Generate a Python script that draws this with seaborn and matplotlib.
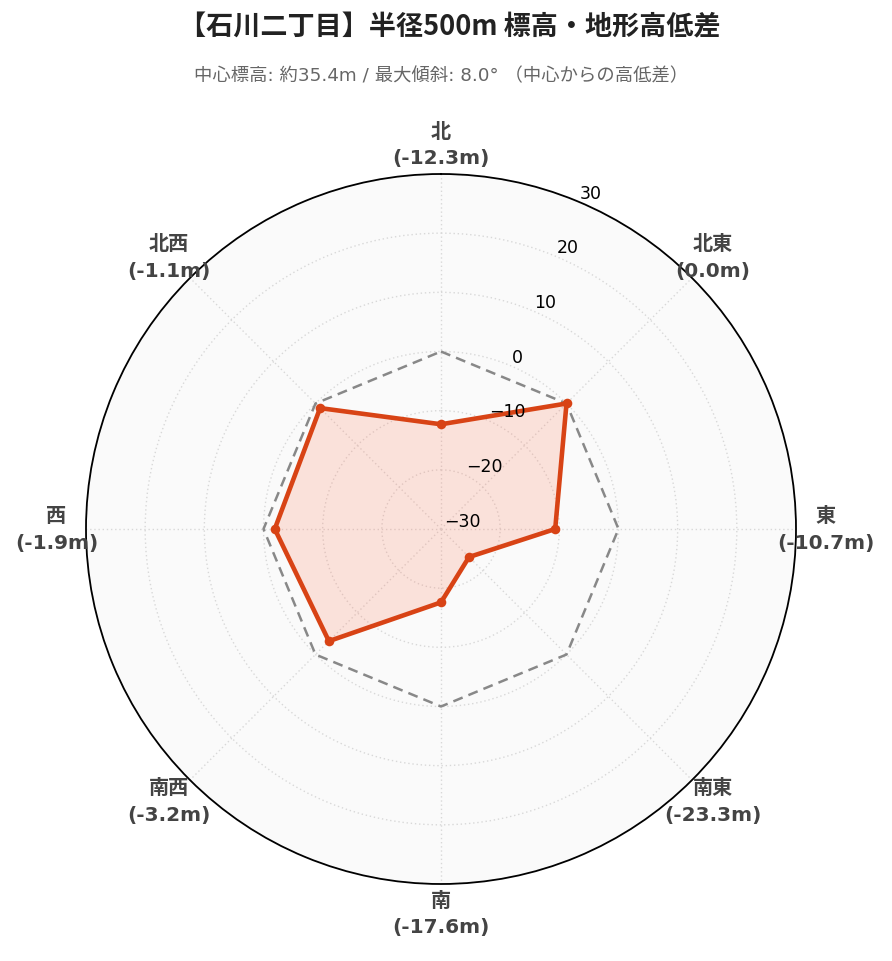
import numpy as np
import matplotlib
matplotlib.use("Agg")
import matplotlib.pyplot as plt
import matplotlib.transforms as mtransforms
import seaborn as sns

sns.set_theme(style="white")
plt.rcParams['font.family'] = ['Noto Sans CJK JP', 'DejaVu Sans']
plt.rcParams['axes.unicode_minus'] = True

# ---- data ----
directions = ["北", "北東", "東", "南東", "南", "南西", "西", "北西"]
values = [-12.3, 0.0, -10.7, -23.3, -17.6, -3.2, -1.9, -1.1]
reference = [0, 0, 0, 0, 0, 0, 0, 0]
r_ticks = [-30, -20, -10, 0, 10, 20, 30]
r_min, r_max = -30, 30
title = "【石川二丁目】半径500m 標高・地形高低差"
subtitle = "中心標高: 約35.4m / 最大傾斜: 8.0° （中心からの高低差）"

line_color = "#d84315"
fill_color = (1.0, 0.49, 0.36)

W, H, DPI = 892, 962, 100
fig = plt.figure(figsize=(W / DPI, H / DPI), dpi=DPI)
fig.patch.set_facecolor("white")

cx, cy, R = 441, 530, 355
ax = fig.add_axes([(cx - R) / W, (H - cy - R) / H, 2 * R / W, 2 * R / H], projection="polar")
ax.set_theta_zero_location("N")
ax.set_theta_direction(-1)
ax.set_facecolor("#fafafa")
ax.set_ylim(r_min, r_max)

n = len(directions)
theta = np.arange(n) * 2 * np.pi / n
theta_c = np.append(theta, theta[0])
vals_c = np.append(values, values[0])
ref_c = np.append(reference, reference[0])

# grid
ax.set_xticks(theta)
ax.set_xticklabels([])
ax.set_yticks(r_ticks)
ax.set_yticklabels([])
ax.grid(True, color="#d8d8d8", linestyle=(0, (1, 2)), linewidth=1.0)
ax.spines["polar"].set_color("black")
ax.spines["polar"].set_linewidth(1.3)
ax.tick_params(axis="both", length=0)

# reference dashed polygon
sns.lineplot(x=theta_c, y=ref_c, ax=ax, color="#888888", linewidth=1.8,
             linestyle=(0, (4, 2.5)), sort=False, estimator=None)
# data polygon
ax.fill(theta_c, vals_c, color=fill_color, alpha=0.2, linewidth=0, zorder=3)
sns.lineplot(x=theta_c, y=vals_c, ax=ax, color=line_color, linewidth=3.3,
             sort=False, estimator=None, zorder=4)
ax.scatter(theta, values, s=48, color=line_color, zorder=5, linewidth=0)

# radial tick labels at 22.5 deg, left aligned
rl_angle = np.deg2rad(22.5)
shift = mtransforms.ScaledTranslation(2 / 72, 6 / 72, fig.dpi_scale_trans)
for t in r_ticks:
    lab = str(t).replace("-", "\u2212")
    ax.text(rl_angle, t, lab, transform=ax.transData + shift,
            ha="left", va="center", fontsize=12.5, color="black",
            family=["DejaVu Sans"], zorder=6)

# angular labels
for th, d, v in zip(theta, directions, values):
    ax.text(th, 35, f"{d}\n({v:.1f}m)", ha="center", va="center",
            fontsize=14.5, fontweight="bold", color="#444444",
            family=["DejaVu Sans", "Noto Sans CJK JP"],
            linespacing=1.5, clip_on=False, zorder=6)

fig.text(450 / W, 1 - 27 / H, title, ha="center", va="center",
         fontsize=19.5, fontweight="bold", color="#222222")
fig.text(441 / W, 1 - 76 / H, subtitle, ha="center", va="center",
         fontsize=13.2, color="#666666",
         family=["DejaVu Sans", "Noto Sans CJK JP"])

fig.savefig("out.png", dpi=DPI)
